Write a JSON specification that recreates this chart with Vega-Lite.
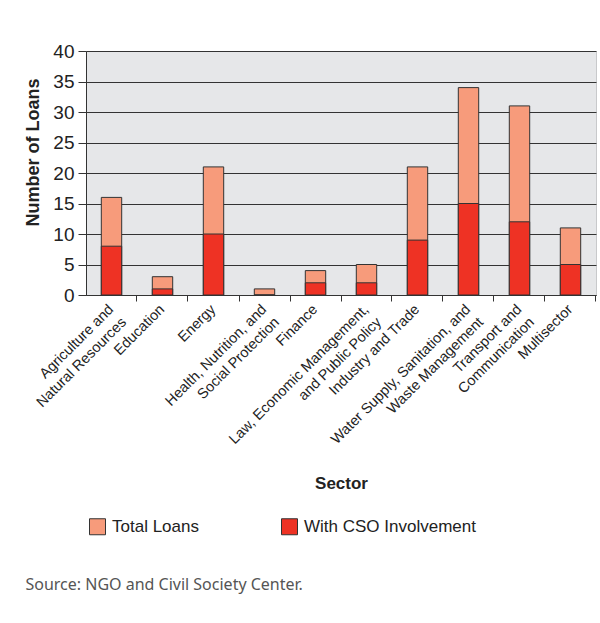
{
  "$schema": "https://vega.github.io/schema/vega-lite/v6.json",
  "width": 510,
  "height": 244,
  "padding": {"left": 20, "top": 42, "right": 4, "bottom": 10},
  "background": "white",
  "title": {
    "text": "Source: NGO and Civil Society Center.",
    "orient": "bottom",
    "anchor": "start",
    "frame": "bounds",
    "font": "Noto Sans",
    "fontSize": 16,
    "fontWeight": "normal",
    "color": "#555555",
    "offset": 40,
    "dx": 5
  },
  "data": {
    "values": [
      {"sector": "Agriculture and|Natural Resources", "series": "Total Loans", "loans": 16},
      {"sector": "Education", "series": "Total Loans", "loans": 3},
      {"sector": "Energy", "series": "Total Loans", "loans": 21},
      {"sector": "Health, Nutrition, and|Social Protection", "series": "Total Loans", "loans": 1},
      {"sector": "Finance", "series": "Total Loans", "loans": 4},
      {"sector": "Law, Economic Management,|and Public Policy", "series": "Total Loans", "loans": 5},
      {"sector": "Industry and Trade", "series": "Total Loans", "loans": 21},
      {"sector": "Water Supply, Sanitation, and|Waste Management", "series": "Total Loans", "loans": 34},
      {"sector": "Transport and|Communication", "series": "Total Loans", "loans": 31},
      {"sector": "Multisector", "series": "Total Loans", "loans": 11},
      {"sector": "Agriculture and|Natural Resources", "series": "With CSO Involvement", "loans": 8},
      {"sector": "Education", "series": "With CSO Involvement", "loans": 1},
      {"sector": "Energy", "series": "With CSO Involvement", "loans": 10},
      {"sector": "Health, Nutrition, and|Social Protection", "series": "With CSO Involvement", "loans": 0},
      {"sector": "Finance", "series": "With CSO Involvement", "loans": 2},
      {"sector": "Law, Economic Management,|and Public Policy", "series": "With CSO Involvement", "loans": 2},
      {"sector": "Industry and Trade", "series": "With CSO Involvement", "loans": 9},
      {"sector": "Water Supply, Sanitation, and|Waste Management", "series": "With CSO Involvement", "loans": 15},
      {"sector": "Transport and|Communication", "series": "With CSO Involvement", "loans": 12},
      {"sector": "Multisector", "series": "With CSO Involvement", "loans": 5}
    ]
  },
  "mark": {"type": "bar", "stroke": "#333333", "strokeWidth": 1},
  "encoding": {
    "x": {
      "field": "sector",
      "type": "nominal",
      "sort": null,
      "scale": {"paddingInner": 0.6, "paddingOuter": 0.3},
      "axis": {
        "title": "Sector",
        "titleFontSize": 17,
        "titleFontWeight": "bold",
        "titleColor": "#222222",
        "titlePadding": 17,
        "labelExpr": "split(datum.label, '|')",
        "labelAngle": -45,
        "labelAlign": "right",
        "labelBaseline": "middle",
        "labelFontSize": 14.5,
        "labelLineHeight": 18,
        "labelColor": "#222222",
        "labelPadding": 6,
        "labelLimit": 400,
        "bandPosition": 1.75,
        "tickColor": "#333333",
        "tickSize": 6,
        "domainColor": "#333333",
        "grid": false
      }
    },
    "y": {
      "field": "loans",
      "type": "quantitative",
      "stack": null,
      "scale": {"domain": [0, 40]},
      "axis": {
        "title": "Number of Loans",
        "titleFontSize": 18,
        "titleFontWeight": "bold",
        "titleColor": "#222222",
        "titlePadding": 10,
        "titleY": 101,
        "values": [0, 5, 10, 15, 20, 25, 30, 35, 40],
        "labelFontSize": 19,
        "labelColor": "#222222",
        "labelPadding": 4,
        "tickSize": 8,
        "tickColor": "#333333",
        "domainColor": "#333333",
        "grid": true,
        "gridColor": "#333333",
        "gridWidth": 1
      }
    },
    "color": {
      "field": "series",
      "type": "nominal",
      "scale": {
        "domain": ["Total Loans", "With CSO Involvement"],
        "range": ["#f79b7b", "#ee3224"]
      },
      "legend": {
        "title": null,
        "orient": "none",
        "direction": "horizontal",
        "legendX": 3,
        "legendY": 467,
        "symbolType": "square",
        "symbolSize": 256,
        "symbolStrokeColor": "#333333",
        "symbolStrokeWidth": 1,
        "symbolOpacity": 1,
        "labelFontSize": 17,
        "labelLimit": 400,
        "labelColor": "#222222",
        "labelOffset": 6,
        "columnPadding": 80
      }
    },
    "order": {"field": "series", "sort": "ascending"}
  },
  "config": {
    "font": "Liberation Sans",
    "view": {"fill": "#e6e7e9", "stroke": "#c8c9cb"}
  }
}
